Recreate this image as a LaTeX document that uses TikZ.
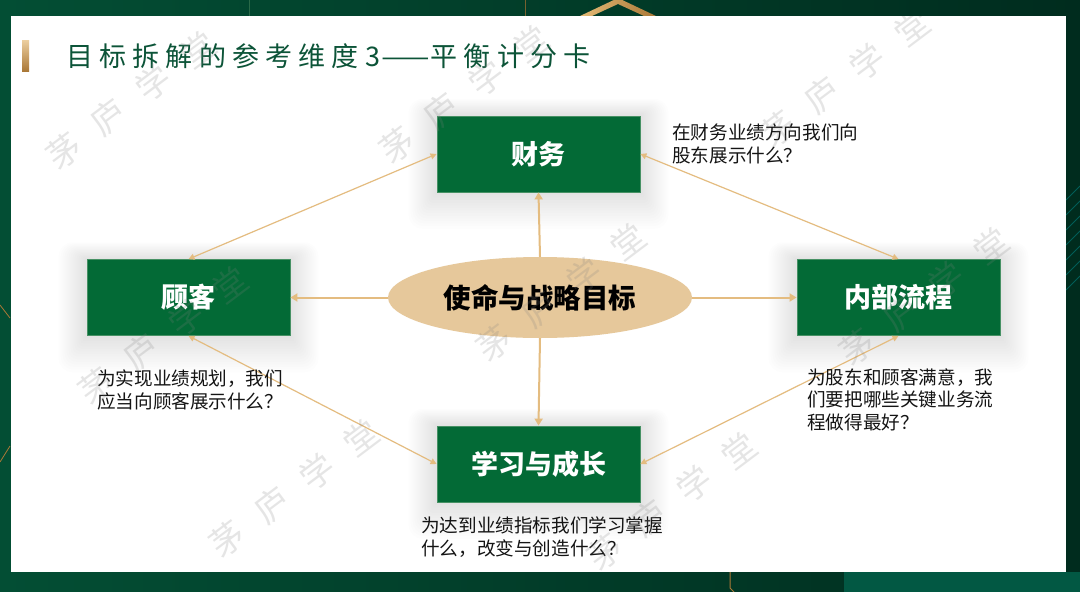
\documentclass[tikz,border=0pt]{standalone}
\usepackage{graphicx}
\usepackage{fontspec}
\setmainfont{Noto Sans CJK SC}
\newfontfamily\titlefont[LetterSpace=23]{Noto Sans CJK SC}
\newfontfamily\wmfont{Noto Sans CJK SC}
\usetikzlibrary{arrows.meta,shapes.geometric}
\pgfdeclarelayer{back}
\pgfdeclarelayer{glow}
\pgfsetlayers{back,glow,main}
\definecolor{boxgreen}{RGB}{3,106,54}
\definecolor{boxedge}{RGB}{70,145,100}
\definecolor{goaltan}{RGB}{230,200,155}
\definecolor{arrowc}{RGB}{228,188,128}
\definecolor{titlegreen}{RGB}{12,84,56}
\definecolor{bgdark}{RGB}{0,44,30}
\definecolor{bgmid}{RGB}{3,78,52}
\definecolor{goldA}{RGB}{228,186,118}
\definecolor{goldB}{RGB}{170,120,55}
\definecolor{descc}{RGB}{20,20,20}
\tikzset{
  card/.style={fill=boxgreen, draw=boxedge, line width=0.8pt, minimum width=203pt, minimum height=76pt,
    inner sep=0pt, text=white, font=\bfseries\fontsize{27}{30}\selectfont},
  goal/.style={ellipse, fill=goaltan, minimum width=304pt, minimum height=81pt, inner sep=0pt,
    text=black, font=\bfseries\fontsize{27.5}{30}\selectfont},
  mainarrow/.style={draw=arrowc, line width=2pt, -{Triangle[length=7pt,width=8pt]}},
  linkarrow/.style={draw=arrowc, line width=1.2pt, {Triangle[length=6pt,width=6pt]}-{Triangle[length=6pt,width=6pt]}},
  desc/.style={align=left, inner sep=0pt, text=descc, font=\fontsize{18.6}{22.5}\selectfont},
  wm/.style={rotate=37, inner sep=0pt, text=gray, opacity=0.2, font=\wmfont\fontsize{34}{36}\selectfont},
  glowlayer/.style={fill=black, opacity=0.009}
}
\newcommand{\wmtext}{茅\hspace{22pt}庐\hspace{22pt}学\hspace{22pt}堂}
\begin{document}
\begin{tikzpicture}[x=1pt,y=-1pt]
\useasboundingbox (0,0) rectangle (1080,592);
\begin{pgfonlayer}{back}
% background frame
\fill[left color=bgmid, right color=bgdark] (0,0) rectangle (1080,592);
\fill[bgmid!80!teal] (844,572) rectangle (1080,592);
\draw[boxedge!60!bgdark, line width=0.8pt] (249,0) -- (249,16);
\draw[goldB!70!bgdark, line width=0.8pt] (525,0) -- (525,16);
\draw[goldB, line width=1pt] (730,572) -- (730,588) -- (734,592);
\foreach \yy in {200,215,230,245,260,275,290}{
  \draw[teal!60!bgdark, line width=0.8pt] (1066,\yy) -- (1080,\yy-14);
}
\draw[goldB, line width=0.8pt] (0,305) -- (10,318);
\draw[goldB, line width=0.8pt] (0,462) -- (10,446);
% chevron
\shade[left color=goldA, right color=goldB] (580,16) -- (618,-2) -- (656,16) -- (644,16) -- (618,4) -- (592,16) -- cycle;
% white panel
\fill[white] (11,16) rectangle (1066,572);
\end{pgfonlayer}
% title
\shade[top color=goldA!70!white, bottom color=goldB] (22,40) rectangle (29,71);
\node[anchor=west, inner sep=0pt, text=titlegreen, font=\titlefont\fontsize{27}{30}\selectfont] (title) at (66,56) {目标拆解的参考维度3\scalebox{2.1}[1]{—}平衡计分卡};
% center goal
\node[goal] (goal) at (540,297.5) {使命与战略目标};
% cards
\node[card] (cw) at (538.5,154) {财务};
\node[card] (ck) at (188.5,297.5) {顾客};
\node[card] (lc) at (898.5,297.5) {内部流程};
\node[card] (xx) at (538.5,464) {学习与成长};
% soft glow behind the cards
\begin{pgfonlayer}{glow}
\foreach \n in {cw,ck,lc,xx}{
  \foreach \k in {1,...,14}{
    \fill[glowlayer, rounded corners=\k pt] ([xshift=-2*\k pt, yshift=-2.6*\k pt]\n.south west) rectangle ([xshift=2*\k pt, yshift=1.2*\k pt]\n.north east);
  }
}
\end{pgfonlayer}
% arrows from the goal
\draw[mainarrow] (goal.north) -- (cw.south);
\draw[mainarrow] (goal.west) -- (ck.east);
\draw[mainarrow] (goal.east) -- (lc.west);
\draw[mainarrow] (goal.south) -- (xx.north);
% links between cards
\draw[linkarrow] (cw.west) -- (ck.north);
\draw[linkarrow] (cw.east) -- (lc.north);
\draw[linkarrow] (ck.south) -- (xx.west);
\draw[linkarrow] (lc.south) -- (xx.east);
% descriptions (base = baseline of last line)
\node[desc, anchor=base west] (dcw) at (672,162) {在财务业绩方向我们向\\股东展示什么？};
\node[desc, anchor=base west] (dck) at (97,408) {为实现业绩规划，我们\\应当向顾客展示什么？};
\node[desc, anchor=base west] (dlc) at (807,429) {为股东和顾客满意，我\\们要把哪些关键业务流\\程做得最好？};
\node[desc, anchor=base west] (dxx) at (421,555) {为达到业绩指标我们学习掌握\\什么，改变与创造什么？};
% watermarks
\begin{scope}
\clip (11,16) rectangle (1066,572);
\node[wm] (wa) at (131,100) {\wmtext};
\node[wm] (wb) at (464,94.5) {\wmtext};
\node[wm] (wc) at (845,78.5) {\wmtext};
\node[wm] (wd) at (561.5,292.5) {\wmtext};
\node[wm] (we) at (163.5,335) {\wmtext};
\node[wm] (wf) at (294.5,488.5) {\wmtext};
\node[wm] (wg) at (672,501) {\wmtext};
\node[wm] (wh) at (924,296.5) {\wmtext};
\end{scope}
\end{tikzpicture}
\end{document}
